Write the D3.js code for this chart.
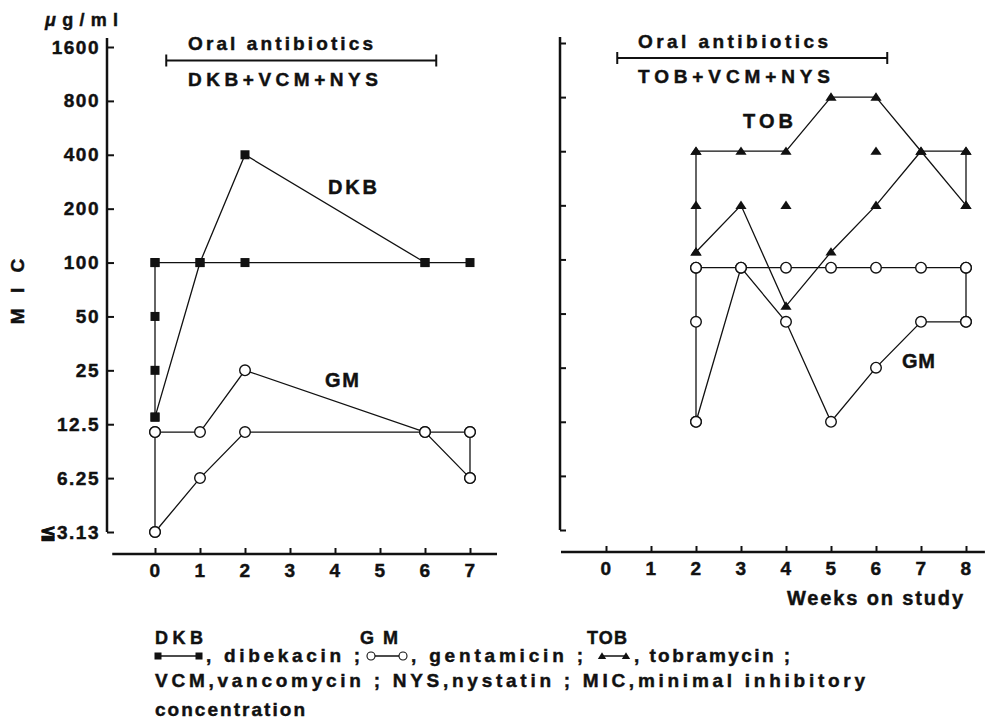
<!DOCTYPE html>
<html>
<head>
<meta charset="utf-8">
<script src="https://cdn.jsdelivr.net/npm/d3@7"></script>
<style>
body { margin: 0; background: #fff; }
svg text { font-family: "Liberation Sans", Arial, Helvetica, sans-serif; font-weight: bold; fill: #111; stroke: #111; stroke-width: 0.45px; }
.tick text { font-size: 19px; letter-spacing: 1.5px; }
</style>
</head>
<body>
<svg id="chart" width="990" height="726"></svg>
<script>
// y ticks (MIC, ug/ml) and week ticks
var micTicks = [3.125, 6.25, 12.5, 25, 50, 100, 200, 400, 800, 1600];
var micLabels = ["≦3.13", "6.25", "12.5", "25", "50", "100", "200", "400", "800", "1600"];
var weeksLeft = [0, 1, 2, 3, 4, 5, 6, 7];
var weeksRight = [0, 1, 2, 3, 4, 5, 6, 7, 8];
var oralPeriod = [0.25, 6.25];

// left panel: DKB (squares), [week, MIC]
var dkbA = [[0, 100], [1, 100], [2, 100], [6, 100], [7, 100]];
var dkbB = [[0, 13.7], [1, 100], [2, 400], [6, 100]];
var dkbWeek0 = [[0, 100], [0, 50], [0, 25], [0, 13.7]];

// left panel: GM (open circles)
var gmLeftA = [[0, 11.3], [1, 11.3], [2, 25], [6, 11.3], [7, 11.3]];
var gmLeftB = [[0, 3.125], [1, 6.25], [2, 11.3], [6, 11.3], [7, 6.25]];
var gmLeftWeek0 = [[0, 11.3], [0, 3.125]];
var gmLeftWeek7 = [[7, 11.3], [7, 6.25]];

// right panel: TOB (triangles)
var tobA = [[2, 400], [3, 400], [4, 400], [5, 800], [6, 800], [7, 400], [8, 200]];
var tobB = [[2, 110], [3, 200], [4, 55], [5, 110], [6, 200], [7, 400], [8, 400]];
var tobWeek2 = [[2, 400], [2, 200], [2, 110]];
var tobWeek8 = [[8, 400], [8, 200]];
var tobSingle = [[4, 200], [6, 400]];

// right panel: GM (open circles)
var gmRightA = [[2, 90], [3, 90], [4, 90], [5, 90], [6, 90], [7, 90], [8, 90]];
var gmRightB = [[2, 12.5], [3, 90], [4, 45], [5, 12.5], [6, 25], [7, 45], [8, 45]];
var gmRightWeek2 = [[2, 90], [2, 45], [2, 12.5]];
var gmRightWeek8 = [[8, 90], [8, 45]];

var svg = d3.select("#chart");
var ink = "#111";

var xL = d3.scaleLinear().domain([0, 7]).range([155, 470]);
var yL = d3.scaleLog().base(2).domain([3.125, 1600]).range([532, 47]);
var xR = d3.scaleLinear().domain([0, 8]).range([606, 966]);
var yR = d3.scaleLog().base(2).domain([3.125, 1600]).range([530, 43]);

function styleAxis(g) {
    g.select(".domain").remove();
    g.selectAll(".tick line").attr("stroke", ink).attr("stroke-width", 2);
}

// text helper, width fitted with textLength
function label(x, y, t, size, width) {
    var el = svg.append("text").attr("x", x).attr("y", y)
        .style("font-size", size + "px").text(t);
    if (width) el.attr("textLength", width).attr("lengthAdjust", "spacing");
    return el;
}

// ---- axes, left
var gyL = svg.append("g")
    .attr("transform", "translate(107,0)")
    .call(d3.axisLeft(yL).tickValues(micTicks)
        .tickFormat(function(d, i) { return micLabels[i]; })
        .tickSizeInner(-7).tickSizeOuter(0).tickPadding(7));
styleAxis(gyL);
gyL.append("line").attr("y1", yL(1600) - 9).attr("y2", yL(3.125))
    .attr("stroke", ink).attr("stroke-width", 2.5);

var gxL = svg.append("g")
    .attr("transform", "translate(0,554)")
    .call(d3.axisBottom(xL).tickValues(weeksLeft).tickFormat(d3.format("d"))
        .tickSizeInner(-6).tickSizeOuter(0).tickPadding(10));
styleAxis(gxL);
gxL.append("line").attr("x1", xL(-0.95)).attr("x2", xL(7.6))
    .attr("stroke", ink).attr("stroke-width", 2.5);

// ---- axes, right
var gyR = svg.append("g")
    .attr("transform", "translate(560,0)")
    .call(d3.axisRight(yR).tickValues(micTicks).tickFormat("")
        .tickSizeInner(6).tickSizeOuter(0));
styleAxis(gyR);
gyR.append("line").attr("y1", yR(1600) - 6).attr("y2", yR(3.125))
    .attr("stroke", ink).attr("stroke-width", 2.5);

var gxR = svg.append("g")
    .attr("transform", "translate(0,552)")
    .call(d3.axisBottom(xR).tickValues(weeksRight).tickFormat(d3.format("d"))
        .tickSizeInner(-6).tickSizeOuter(0).tickPadding(10));
styleAxis(gxR);
gxR.append("line").attr("x1", xR(-1)).attr("x2", xR(8.42))
    .attr("stroke", ink).attr("stroke-width", 2.5);

// ---- axis titles
svg.append("text").attr("x", 45).attr("y", 26)
    .style("font-size", "18px")
    .attr("textLength", 73).attr("lengthAdjust", "spacing")
    .html('<tspan font-style="italic">μ</tspan>g/ml');

svg.append("text")
    .attr("transform", "translate(24,289) rotate(-90)")
    .attr("text-anchor", "middle")
    .style("font-size", "19px").style("letter-spacing", "5px")
    .text("M I C");

label(787, 605, "Weeks on study", 20, 176);

// ---- treatment period brackets
function bracket(x, y, label1, label2, tx, ty1, ty2, w1, w2) {
    var g = svg.append("g").attr("stroke", ink).attr("stroke-width", 2);
    g.append("line").attr("x1", x(oralPeriod[0])).attr("x2", x(oralPeriod[1])).attr("y1", y).attr("y2", y);
    g.selectAll(null).data(oralPeriod).enter().append("line")
        .attr("x1", function(d) { return x(d); }).attr("x2", function(d) { return x(d); })
        .attr("y1", y - 6).attr("y2", y + 6);
    label(tx, ty1, label1, 19, w1);
    label(tx, ty2, label2, 19, w2);
}
bracket(xL, 60.5, "Oral  antibiotics", "DKB+VCM+NYS", 188, 50, 86, 185, 190);
bracket(xR, 58, "Oral  antibiotics", "TOB+VCM+NYS", 638, 48, 83, 190, 192);

// ---- series
var lineGen = function(x, y) {
    return d3.line().x(function(d) { return x(d[0]); }).y(function(d) { return y(d[1]); });
};

function drawLines(x, y, lines) {
    svg.append("g").selectAll("path")
        .data(lines).enter().append("path")
        .attr("d", lineGen(x, y))
        .attr("fill", "none").attr("stroke", ink).attr("stroke-width", 1.3);
}

function drawMarkers(x, y, pts, shape) {
    var g = svg.append("g");
    var sel = g.selectAll(null).data(pts).enter();
    if (shape === "square") {
        sel.append("rect")
            .attr("x", function(d) { return x(d[0]) - 4.5; })
            .attr("y", function(d) { return y(d[1]) - 4.5; })
            .attr("width", 9).attr("height", 9).attr("fill", ink);
    } else if (shape === "circle") {
        sel.append("circle")
            .attr("cx", function(d) { return x(d[0]); })
            .attr("cy", function(d) { return y(d[1]); })
            .attr("r", 5.3).attr("fill", "#fff").attr("stroke", ink).attr("stroke-width", 1.4);
    } else {
        sel.append("path")
            .attr("transform", function(d) { return "translate(" + x(d[0]) + "," + y(d[1]) + ")"; })
            .attr("d", "M0,-4.8L5.6,3.6L-5.6,3.6Z").attr("fill", ink);
    }
}

function allPoints(lines) {
    return [].concat.apply([], lines);
}

// left panel
var dkbLines = [dkbA, dkbB, dkbWeek0];
var gmLeftLines = [gmLeftA, gmLeftB, gmLeftWeek0, gmLeftWeek7];
drawLines(xL, yL, dkbLines);
drawLines(xL, yL, gmLeftLines);
drawMarkers(xL, yL, allPoints(gmLeftLines), "circle");
drawMarkers(xL, yL, allPoints(dkbLines), "square");

// right panel
var tobLines = [tobA, tobB, tobWeek2, tobWeek8];
var gmRightLines = [gmRightA, gmRightB, gmRightWeek2, gmRightWeek8];
drawLines(xR, yR, tobLines);
drawLines(xR, yR, gmRightLines);
drawMarkers(xR, yR, allPoints(gmRightLines), "circle");
drawMarkers(xR, yR, allPoints(tobLines).concat(tobSingle), "triangle");

// series labels
label(328, 194, "DKB", 20, 49);
label(325, 387, "GM", 20, 34);
label(743, 128, "TOB", 20, 50);
label(902, 368, "GM", 20, 33);

// ---- legend / footnote
var legendItems = [
    { abbr: "DKB", aw: 48, ax: 155, s0: 158, s1: 199, name: ", dibekacin ;", tx: 206, tw: 154, shape: "square" },
    { abbr: "GM", aw: 38, ax: 360, s0: 371, s1: 403, name: ", gentamicin ;", tx: 411, tw: 172, shape: "circle" },
    { abbr: "TOB", aw: 40, ax: 587, s0: 602, s1: 626, name: ", tobramycin ;", tx: 634, tw: 156, shape: "triangle" }
];
var legY = 656;
legendItems.forEach(function(it) {
    label(it.ax, 644, it.abbr, 18, it.aw);
    var g = svg.append("g");
    g.append("line").attr("x1", it.s0).attr("x2", it.s1).attr("y1", legY).attr("y2", legY)
        .attr("stroke", ink).attr("stroke-width", 1.5);
    [it.s0, it.s1].forEach(function(cx) {
        if (it.shape === "square") {
            g.append("rect").attr("x", cx - 3.5).attr("y", legY - 3.5).attr("width", 7).attr("height", 7).attr("fill", ink);
        } else if (it.shape === "circle") {
            g.append("circle").attr("cx", cx).attr("cy", legY).attr("r", 4)
                .attr("fill", "#fff").attr("stroke", ink).attr("stroke-width", 1.1);
        } else {
            g.append("path").attr("transform", "translate(" + cx + "," + legY + ")")
                .attr("d", "M0,-3.8L4.2,3L-4.2,3Z").attr("fill", ink);
        }
    });
    label(it.tx, 662, it.name, 19, it.tw);
});

label(155, 687, "VCM,vancomycin ; NYS,nystatin ; MIC,minimal  inhibitory", 19, 710);
label(155, 716, "concentration", 19, 150);
</script>
</body>
</html>
